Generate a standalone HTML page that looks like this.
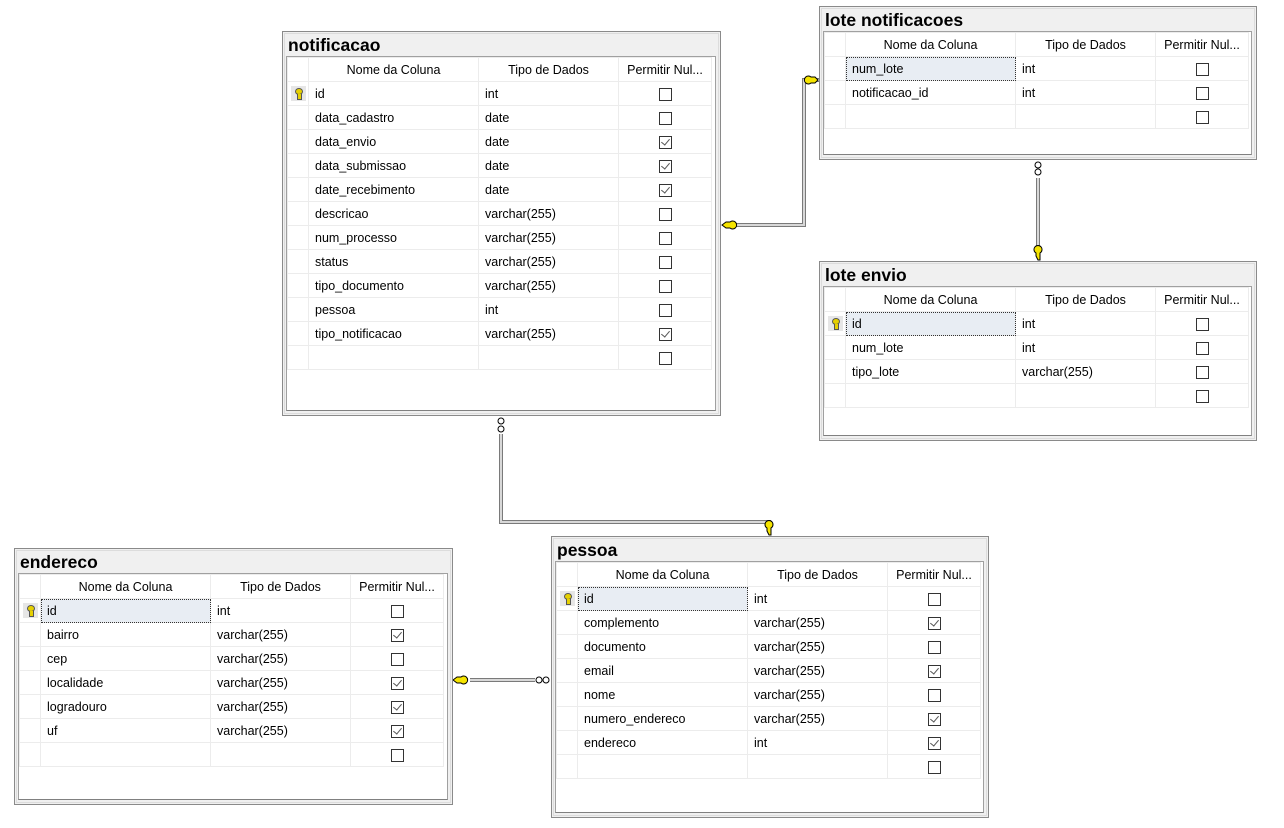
<!DOCTYPE html>
<html><head><meta charset="utf-8"><style>
body{margin:0;width:1284px;height:828px;background:#fff;position:relative;overflow:hidden;font-family:"Liberation Sans",sans-serif;}
.f{position:absolute;border:1px solid #8a8a8a;background:#f0f0f0;box-sizing:border-box;}
.f:after{content:"";position:absolute;left:1px;top:1px;right:1px;bottom:1px;border:1px solid #dcdcdc;pointer-events:none}
.t{position:absolute;left:5px;top:3px;font-weight:bold;font-size:17.5px;color:#000}
.p{position:absolute;left:3px;right:4px;bottom:4px;background:#fff;border:1px solid #a0a0a0;border-bottom-color:#808080}
table{position:absolute;left:0;top:0;border-collapse:collapse;font-size:12.5px;color:#000;table-layout:fixed}
td{height:23px;border:1px solid #ececec;padding:0 0 0 6px;white-space:nowrap;overflow:hidden}
tr.h td{text-align:center;padding:0;background:#fff}
td.s{padding:0;text-align:center}
td.c{padding:0;text-align:center}
.cb{display:inline-block;width:11px;height:11px;border:1px solid #333;vertical-align:middle;position:relative;background:#fff}
.cb.k:after{content:"";position:absolute;left:3px;top:0px;width:4px;height:7px;border:solid #555;border-width:0 1.5px 1.5px 0;transform:rotate(40deg)}
.key{display:inline-block;width:15px;height:15px;background:#e6e6e6;vertical-align:middle;position:relative}
.key:before{content:"";position:absolute;left:4px;top:2px;width:6px;height:5px;border-radius:50%;background:#e6d000;border:1px solid #555}
.key:after{content:"";position:absolute;left:6px;top:8px;width:3px;height:5px;background:#e6d000;border:1px solid #555;border-top:none}
td.sel{background:#e8edf3;outline:1px dotted #333;outline-offset:-1px}
</style></head><body>

<svg width="1284" height="828" style="position:absolute;left:0;top:0">
<g fill="none" stroke-linejoin="miter">
<path d="M736 225 H804 V80 H819" stroke="#7a7a7a" stroke-width="4"/>
<path d="M736 225 H804 V80 H819" stroke="#d8d8d8" stroke-width="2"/>
<path d="M1038 178 V248" stroke="#7a7a7a" stroke-width="4"/>
<path d="M1038 178 V248" stroke="#d8d8d8" stroke-width="2"/>
<path d="M501 434 V522 H769 V520" stroke="#7a7a7a" stroke-width="4"/>
<path d="M501 434 V522 H769" stroke="#d8d8d8" stroke-width="2"/>
<path d="M470 680 H535" stroke="#7a7a7a" stroke-width="4"/>
<path d="M470 680 H535" stroke="#d8d8d8" stroke-width="2"/>
</g>
<g stroke="#000" stroke-width="1" fill="#fff">
<circle cx="1038" cy="165" r="3"/><circle cx="1038" cy="172" r="3"/>
<circle cx="501" cy="421" r="3"/><circle cx="501" cy="429" r="3"/>
<circle cx="539" cy="680" r="3"/><circle cx="546" cy="680" r="3"/>
</g>
<g fill="#f5e400" stroke="#000" stroke-width="1">
<path d="M722 225 l4 -3 h4 a4 4 0 1 1 0 6 h-4 z"/>
<path d="M818 80 l-3 -3 h-4 a4 4 0 1 0 0 6 h4 z"/>
<path d="M1038 260 l-2 -4 v-3 a4 4 0 1 1 4 0 v7 z"/>
<path d="M769 535 l-2 -4 v-3 a4 4 0 1 1 4 0 v7 z"/>
<path d="M453 680 l4 -3 h4 a4 4 0 1 1 0 6 h-4 z"/>
</g>
</svg>

<!-- notificacao -->
<div class="f" style="left:282px;top:31px;width:439px;height:385px"><div class="t">notificacao</div>
<div class="p" style="top:24px"><table style="width:424px">
<colgroup><col style="width:21px"><col style="width:170px"><col style="width:140px"><col style="width:93px"></colgroup>
<tr class="h"><td></td><td>Nome da Coluna</td><td>Tipo de Dados</td><td>Permitir Nul...</td></tr>
<tr><td class="s"><span class="key"></span></td><td>id</td><td>int</td><td class="c"><span class="cb"></span></td></tr>
<tr><td class="s"></td><td>data_cadastro</td><td>date</td><td class="c"><span class="cb"></span></td></tr>
<tr><td class="s"></td><td>data_envio</td><td>date</td><td class="c"><span class="cb k"></span></td></tr>
<tr><td class="s"></td><td>data_submissao</td><td>date</td><td class="c"><span class="cb k"></span></td></tr>
<tr><td class="s"></td><td>date_recebimento</td><td>date</td><td class="c"><span class="cb k"></span></td></tr>
<tr><td class="s"></td><td>descricao</td><td>varchar(255)</td><td class="c"><span class="cb"></span></td></tr>
<tr><td class="s"></td><td>num_processo</td><td>varchar(255)</td><td class="c"><span class="cb"></span></td></tr>
<tr><td class="s"></td><td>status</td><td>varchar(255)</td><td class="c"><span class="cb"></span></td></tr>
<tr><td class="s"></td><td>tipo_documento</td><td>varchar(255)</td><td class="c"><span class="cb"></span></td></tr>
<tr><td class="s"></td><td>pessoa</td><td>int</td><td class="c"><span class="cb"></span></td></tr>
<tr><td class="s"></td><td>tipo_notificacao</td><td>varchar(255)</td><td class="c"><span class="cb k"></span></td></tr>
<tr><td class="s"></td><td></td><td></td><td class="c"><span class="cb"></span></td></tr>
</table></div></div>

<!-- lote notificacoes -->
<div class="f" style="left:819px;top:6px;width:438px;height:154px"><div class="t">lote notificacoes</div>
<div class="p" style="top:24px"><table style="width:424px">
<colgroup><col style="width:21px"><col style="width:170px"><col style="width:140px"><col style="width:93px"></colgroup>
<tr class="h"><td></td><td>Nome da Coluna</td><td>Tipo de Dados</td><td>Permitir Nul...</td></tr>
<tr><td class="s"></td><td class="sel">num_lote</td><td>int</td><td class="c"><span class="cb"></span></td></tr>
<tr><td class="s"></td><td>notificacao_id</td><td>int</td><td class="c"><span class="cb"></span></td></tr>
<tr><td class="s"></td><td></td><td></td><td class="c"><span class="cb"></span></td></tr>
</table></div></div>

<!-- lote envio -->
<div class="f" style="left:819px;top:261px;width:438px;height:180px"><div class="t">lote envio</div>
<div class="p" style="top:24px"><table style="width:424px">
<colgroup><col style="width:21px"><col style="width:170px"><col style="width:140px"><col style="width:93px"></colgroup>
<tr class="h"><td></td><td>Nome da Coluna</td><td>Tipo de Dados</td><td>Permitir Nul...</td></tr>
<tr><td class="s"><span class="key"></span></td><td class="sel">id</td><td>int</td><td class="c"><span class="cb"></span></td></tr>
<tr><td class="s"></td><td>num_lote</td><td>int</td><td class="c"><span class="cb"></span></td></tr>
<tr><td class="s"></td><td>tipo_lote</td><td>varchar(255)</td><td class="c"><span class="cb"></span></td></tr>
<tr><td class="s"></td><td></td><td></td><td class="c"><span class="cb"></span></td></tr>
</table></div></div>

<!-- endereco -->
<div class="f" style="left:14px;top:548px;width:439px;height:257px"><div class="t">endereco</div>
<div class="p" style="top:24px"><table style="width:424px">
<colgroup><col style="width:21px"><col style="width:170px"><col style="width:140px"><col style="width:93px"></colgroup>
<tr class="h"><td></td><td>Nome da Coluna</td><td>Tipo de Dados</td><td>Permitir Nul...</td></tr>
<tr><td class="s"><span class="key"></span></td><td class="sel">id</td><td>int</td><td class="c"><span class="cb"></span></td></tr>
<tr><td class="s"></td><td>bairro</td><td>varchar(255)</td><td class="c"><span class="cb k"></span></td></tr>
<tr><td class="s"></td><td>cep</td><td>varchar(255)</td><td class="c"><span class="cb"></span></td></tr>
<tr><td class="s"></td><td>localidade</td><td>varchar(255)</td><td class="c"><span class="cb k"></span></td></tr>
<tr><td class="s"></td><td>logradouro</td><td>varchar(255)</td><td class="c"><span class="cb k"></span></td></tr>
<tr><td class="s"></td><td>uf</td><td>varchar(255)</td><td class="c"><span class="cb k"></span></td></tr>
<tr><td class="s"></td><td></td><td></td><td class="c"><span class="cb"></span></td></tr>
</table></div></div>

<!-- pessoa -->
<div class="f" style="left:551px;top:536px;width:438px;height:282px"><div class="t">pessoa</div>
<div class="p" style="top:24px"><table style="width:424px">
<colgroup><col style="width:21px"><col style="width:170px"><col style="width:140px"><col style="width:93px"></colgroup>
<tr class="h"><td></td><td>Nome da Coluna</td><td>Tipo de Dados</td><td>Permitir Nul...</td></tr>
<tr><td class="s"><span class="key"></span></td><td class="sel">id</td><td>int</td><td class="c"><span class="cb"></span></td></tr>
<tr><td class="s"></td><td>complemento</td><td>varchar(255)</td><td class="c"><span class="cb k"></span></td></tr>
<tr><td class="s"></td><td>documento</td><td>varchar(255)</td><td class="c"><span class="cb"></span></td></tr>
<tr><td class="s"></td><td>email</td><td>varchar(255)</td><td class="c"><span class="cb k"></span></td></tr>
<tr><td class="s"></td><td>nome</td><td>varchar(255)</td><td class="c"><span class="cb"></span></td></tr>
<tr><td class="s"></td><td>numero_endereco</td><td>varchar(255)</td><td class="c"><span class="cb k"></span></td></tr>
<tr><td class="s"></td><td>endereco</td><td>int</td><td class="c"><span class="cb k"></span></td></tr>
<tr><td class="s"></td><td></td><td></td><td class="c"><span class="cb"></span></td></tr>
</table></div></div>

</body></html>
